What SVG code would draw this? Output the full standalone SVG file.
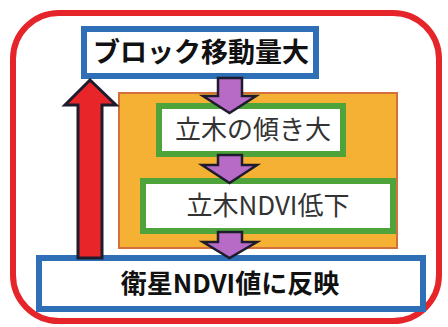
<svg xmlns="http://www.w3.org/2000/svg" width="448" height="327" viewBox="0 0 448 327">
<style>
.bold{font-family:"Noto Sans CJK JP","Noto Sans",sans-serif;font-weight:bold;fill:#111;}
.reg{font-family:"Noto Sans CJK JP","Noto Sans",sans-serif;font-weight:normal;fill:#333;}
.blue{fill:#fff;stroke:#2F6FB8;stroke-width:6;}
.green{fill:#fff;stroke:#4EA43A;stroke-width:6;}
.parrow{fill:#B86BC6;stroke:#1C1C2C;stroke-width:2.5;stroke-linejoin:miter;}
.rarrow{fill:#E8262A;stroke:#1C1C2C;stroke-width:3;stroke-linejoin:miter;}
</style>
<rect width="448" height="327" fill="#fff"/>
<rect id="frame" x="13" y="13" width="426" height="308" rx="46" ry="46" fill="#fff" stroke="#E5252A" stroke-width="6"/>
<g id="group-orange">
<rect x="119" y="93" width="278" height="155" fill="#F4B133" stroke="#D3703B" stroke-width="2"/>
</g>
<g id="node-top">
<rect class="blue" x="84" y="29" width="232" height="47"/>
<text class="bold" x="201" y="62" font-size="27" text-anchor="middle">ブロック移動量大</text>
</g>
<g id="node-tilt">
<rect class="green" x="159" y="106" width="184" height="48"/>
<text class="reg" x="253" y="139" font-size="26" text-anchor="middle">立木の傾き大</text>
</g>
<g id="node-ndvi">
<rect class="green" x="143" y="181" width="250" height="50"/>
<text class="reg" x="268" y="215" font-size="26" text-anchor="middle">立木NDVI低下</text>
</g>
<g id="node-sat">
<rect class="blue" x="39" y="258" width="384" height="51"/>
<text class="bold" x="230" y="293" font-size="26" text-anchor="middle">衛星NDVI値に反映</text>
</g>
<g id="connectors">
<polygon class="rarrow" points="78,258 78,105 65,105 90,80 116,105 102,105 102,258"/>
<polygon class="parrow" points="218,78 242,78 242,96 256,96 229.5,113 203,96 218,96"/>
<polygon class="parrow" points="218,155 242,155 242,165 257,165 229.5,183 202,165 218,165"/>
<polygon class="parrow" points="218,232 242,232 242,242 257,242 229.5,258 203,242 218,242"/>
</g>
</svg>
